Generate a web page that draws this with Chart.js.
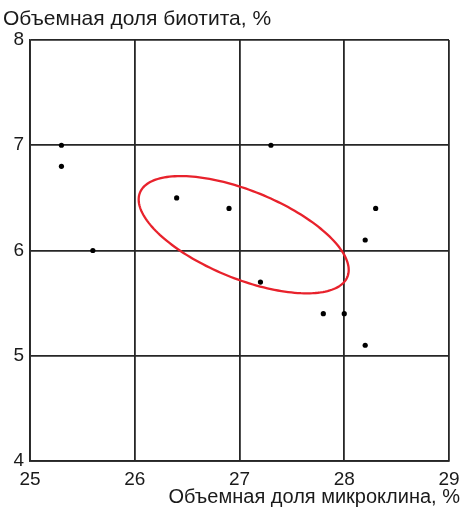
<!DOCTYPE html>
<html><head><meta charset="utf-8">
<script src="https://cdn.jsdelivr.net/npm/chart.js@4"></script>
<style>html,body{margin:0;padding:0;background:#fff}</style>
</head><body>
<canvas id="c" width="462" height="507" style="display:block;width:462px;height:507px"></canvas>
<script>
// ---- data ----
const xTickValues = [25, 26, 27, 28, 29];
const yTickValues = [4, 5, 6, 7, 8];
const microcline = [25.3, 25.3, 25.6, 26.4, 26.9, 27.3, 27.2, 27.8, 28.0, 28.2, 28.2, 28.3];
const biotite    = [7.0, 6.8, 6.0, 6.5, 6.4, 7.0, 5.7, 5.4, 5.4, 5.1, 6.1, 6.4];
const ellipseCenter = [27.04, 6.15];   // data units
const ellipseSemiAxes = [1.068, 0.418]; // data units
const ellipseAngleDeg = -22;
const yTitle = 'Объемная доля биотита, %';
const xTitle = 'Объемная доля микроклина, %';

const FONT = '"Liberation Sans", Arial, sans-serif';
const points = microcline.map((x, i) => ({x: x, y: biotite[i]}));

const ellipsePlugin = {
  id: 'ellipse',
  beforeDatasetsDraw(chart) {
    const xs = chart.scales.x, ys = chart.scales.y, ctx = chart.ctx;
    const th = ellipseAngleDeg * Math.PI / 180;
    const [a, b] = ellipseSemiAxes, [cx, cy] = ellipseCenter;
    ctx.save();
    ctx.beginPath();
    const N = 180;
    for (let i = 0; i <= N; i++) {
      const t = i / N * 2 * Math.PI;
      const dx = a * Math.cos(t), dy = b * Math.sin(t);
      const X = cx + dx * Math.cos(th) - dy * Math.sin(th);
      const Y = cy + dx * Math.sin(th) + dy * Math.cos(th);
      const px = xs.getPixelForValue(X), py = ys.getPixelForValue(Y);
      if (i === 0) ctx.moveTo(px, py); else ctx.lineTo(px, py);
    }
    ctx.closePath();
    ctx.strokeStyle = '#e8222c';
    ctx.lineWidth = 2.3;
    ctx.stroke();
    ctx.restore();
  }
};

const titlePlugin = {
  id: 'titles',
  afterDraw(chart) {
    const ctx = chart.ctx;
    ctx.save();
    ctx.fillStyle = '#1a1a1a';
    ctx.textBaseline = 'alphabetic';
    ctx.font = '21px ' + FONT;
    ctx.textAlign = 'left';
    ctx.fillText(yTitle, 3, 25);
    ctx.font = '20px ' + FONT;
    ctx.textAlign = 'right';
    ctx.fillText(xTitle, 460, 503);
    ctx.restore();
  }
};

function zeroPad(s) { s.paddingLeft = 0; s.paddingRight = 0; s.paddingTop = 0; s.paddingBottom = 0; }

new Chart(document.getElementById('c'), {
  type: 'scatter',
  data: {
    datasets: [{
      data: points,
      backgroundColor: '#000',
      borderColor: '#000',
      pointRadius: 2.6,
      pointHoverRadius: 2.6,
      borderWidth: 0
    }]
  },
  options: {
    responsive: false,
    animation: false,
    devicePixelRatio: 1,
    layout: {padding: {top: 40, right: 13, bottom: 0, left: 0}},
    plugins: {legend: {display: false}, tooltip: {enabled: false}},
    scales: {
      x: {
        type: 'linear', min: 25, max: 29,
        afterBuildTicks(s) { s.ticks = xTickValues.map(v => ({value: v})); },
        afterFit(s) { s.height = 46; zeroPad(s); },
        ticks: {color: '#1a1a1a', font: {family: FONT, size: 19}, padding: 7, maxRotation: 0, autoSkip: false},
        grid: {color: '#262626', lineWidth: 1.8, drawTicks: false},
        border: {color: '#262626', width: 1.8}
      },
      y: {
        type: 'linear', min: 4, max: 8,
        afterBuildTicks(s) { s.ticks = yTickValues.map(v => ({value: v})); },
        afterFit(s) { s.width = 30; zeroPad(s); },
        ticks: {color: '#1a1a1a', font: {family: FONT, size: 19}, padding: 6, autoSkip: false},
        grid: {color: '#262626', lineWidth: 1.8, drawTicks: false},
        border: {color: '#262626', width: 1.8}
      }
    }
  },
  plugins: [ellipsePlugin, titlePlugin]
});
</script>
</body></html>
